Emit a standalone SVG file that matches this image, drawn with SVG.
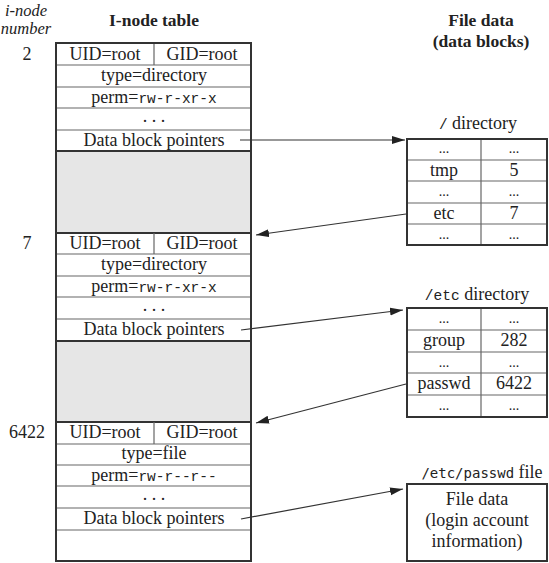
<svg xmlns="http://www.w3.org/2000/svg" width="549" height="563" viewBox="0 0 549 563">
<style>
text{font-family:"Liberation Serif","Times New Roman",serif;fill:#222;font-size:18px;text-anchor:middle}
.it{font-style:italic;font-size:16.5px}
.b{font-weight:bold;font-size:17.5px}
.m{font-family:"Liberation Mono","Courier New",monospace;font-size:14.5px}
.sm{font-family:"DejaVu Sans Mono",monospace;font-size:14px}
.dots{font-size:14px}
.outer{fill:none;stroke:#333;stroke-width:2}
.thick{stroke:#333;stroke-width:2.2}
.thin{stroke:#666;stroke-width:1.2}
.gray{fill:#e6e6e6}
.conn{fill:none;stroke:#333;stroke-width:1.2}
</style>
<defs>
<marker id="ah" markerUnits="userSpaceOnUse" markerWidth="14" markerHeight="9" refX="13" refY="4" orient="auto">
<path d="M0,0 L13,4 L0,8 Z" fill="#222"/>
</marker>
</defs>
<rect width="549" height="563" fill="#fff"/>

<g id="headers">
<text class="it" x="26" y="16">i-node</text>
<text class="it" x="26" y="34">number</text>
<text class="b" x="154" y="26">I-node table</text>
<text class="b" x="481" y="26">File data</text>
<text class="b" x="481" y="47">(data blocks)</text>
</g>

<g id="inode-table">
<rect class="gray" x="56" y="151" width="195" height="82"/>
<rect class="gray" x="56" y="341" width="195" height="81"/>
<g id="inode-2">
<text x="27" y="60">2</text>
<line class="thin" x1="56" y1="65" x2="251" y2="65"/>
<line class="thin" x1="56" y1="87" x2="251" y2="87"/>
<line class="thin" x1="56" y1="108" x2="251" y2="108"/>
<line class="thin" x1="56" y1="130" x2="251" y2="130"/>
<line class="thin" x1="154" y1="43" x2="154" y2="65"/>
<text x="105" y="60">UID=root</text>
<text x="202" y="60">GID=root</text>
<text x="154" y="81">type=directory</text>
<text x="154" y="103"><tspan>perm=</tspan><tspan class="m">rw-r-xr-x</tspan></text>
<text x="154" y="122" font-size="15">. . .</text>
<text x="154" y="146">Data block pointers</text>
</g>
<line class="thick" x1="56" y1="151" x2="251" y2="151"/>
<line class="thick" x1="56" y1="233" x2="251" y2="233"/>
<g id="inode-7">
<text x="27" y="249">7</text>
<line class="thin" x1="56" y1="254" x2="251" y2="254"/>
<line class="thin" x1="56" y1="276" x2="251" y2="276"/>
<line class="thin" x1="56" y1="297" x2="251" y2="297"/>
<line class="thin" x1="56" y1="319" x2="251" y2="319"/>
<line class="thin" x1="154" y1="233" x2="154" y2="254"/>
<text x="105" y="249">UID=root</text>
<text x="202" y="249">GID=root</text>
<text x="154" y="270">type=directory</text>
<text x="154" y="292"><tspan>perm=</tspan><tspan class="m">rw-r-xr-x</tspan></text>
<text x="154" y="311" font-size="15">. . .</text>
<text x="154" y="335">Data block pointers</text>
</g>
<line class="thick" x1="56" y1="341" x2="251" y2="341"/>
<line class="thick" x1="56" y1="422" x2="251" y2="422"/>
<g id="inode-6422">
<text x="27" y="438">6422</text>
<line class="thin" x1="56" y1="444" x2="251" y2="444"/>
<line class="thin" x1="56" y1="465" x2="251" y2="465"/>
<line class="thin" x1="56" y1="486" x2="251" y2="486"/>
<line class="thin" x1="56" y1="508" x2="251" y2="508"/>
<line class="thin" x1="56" y1="530" x2="251" y2="530"/>
<line class="thin" x1="154" y1="422" x2="154" y2="444"/>
<text x="105" y="438">UID=root</text>
<text x="202" y="438">GID=root</text>
<text x="154" y="459">type=file</text>
<text x="154" y="481"><tspan>perm=</tspan><tspan class="m">rw-r--r--</tspan></text>
<text x="154" y="500" font-size="15">. . .</text>
<text x="154" y="524">Data block pointers</text>
</g>
<rect class="outer" x="56" y="43" width="195" height="518"/>
</g>

<g id="root-dir">
<text x="478" y="129"><tspan class="m">/</tspan> directory</text>
<line class="thin" x1="407" y1="160" x2="547" y2="160"/>
<line class="thin" x1="407" y1="181" x2="547" y2="181"/>
<line class="thin" x1="407" y1="203" x2="547" y2="203"/>
<line class="thin" x1="407" y1="224" x2="547" y2="224"/>
<line class="thin" x1="481" y1="139" x2="481" y2="245"/>
<rect class="outer" x="407" y="139" width="140" height="106"/>
<text class="dots" x="444" y="153">...</text>
<text class="dots" x="514" y="153">...</text>
<text x="444" y="176">tmp</text>
<text x="514" y="176">5</text>
<text class="dots" x="444" y="196">...</text>
<text class="dots" x="514" y="196">...</text>
<text x="444" y="219">etc</text>
<text x="514" y="219">7</text>
<text class="dots" x="444" y="239">...</text>
<text class="dots" x="514" y="239">...</text>
</g>

<g id="etc-dir">
<text x="477" y="300"><tspan class="m">/etc</tspan> directory</text>
<line class="thin" x1="407" y1="330" x2="547" y2="330"/>
<line class="thin" x1="407" y1="352" x2="547" y2="352"/>
<line class="thin" x1="407" y1="373" x2="547" y2="373"/>
<line class="thin" x1="407" y1="395" x2="547" y2="395"/>
<line class="thin" x1="481" y1="308" x2="481" y2="417"/>
<rect class="outer" x="407" y="308" width="140" height="109"/>
<text class="dots" x="444" y="323">...</text>
<text class="dots" x="514" y="323">...</text>
<text x="444" y="346">group</text>
<text x="514" y="346">282</text>
<text class="dots" x="444" y="367">...</text>
<text class="dots" x="514" y="367">...</text>
<text x="444" y="389">passwd</text>
<text x="514" y="389">6422</text>
<text class="dots" x="444" y="410">...</text>
<text class="dots" x="514" y="410">...</text>
</g>

<g id="passwd-file">
<text x="482" y="478"><tspan class="sm">/etc/passwd</tspan> file</text>
<rect class="outer" x="407" y="484" width="140" height="77"/>
<text x="477" y="505">File data</text>
<text x="477" y="526">(login account</text>
<text x="477" y="547">information)</text>
</g>

<g id="connectors">
<line class="conn" x1="240" y1="140" x2="405" y2="140" marker-end="url(#ah)"/>
<line class="conn" x1="406" y1="214" x2="256" y2="235" marker-end="url(#ah)"/>
<line class="conn" x1="241" y1="330" x2="403" y2="310" marker-end="url(#ah)"/>
<line class="conn" x1="406" y1="384" x2="256" y2="423" marker-end="url(#ah)"/>
<line class="conn" x1="241" y1="519" x2="403" y2="489" marker-end="url(#ah)"/>
</g>
</svg>
